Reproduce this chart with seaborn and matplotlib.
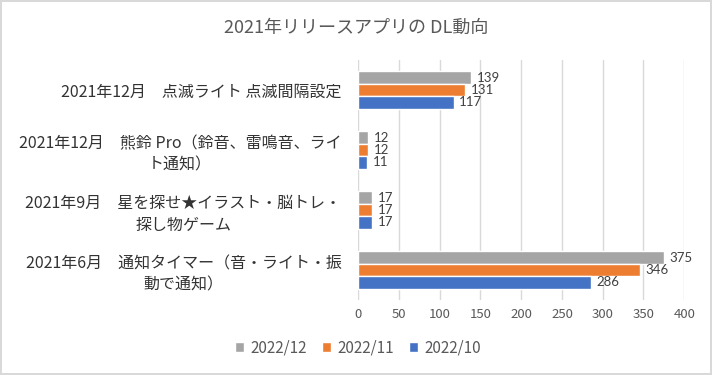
#horizontal grouped bar chart of app downloads
import pandas as pd
import matplotlib
matplotlib.use('Agg')
import matplotlib.pyplot as plt
import seaborn as sns

#chart data
apps = [
    '2021年12月　点滅ライト 点滅間隔設定',
    '2021年12月　熊鈴 Pro（鈴音、雷鳴音、ライ\nト通知）',
    '2021年9月　星を探せ★イラスト・脳トレ・\n探し物ゲーム',
    '2021年6月　通知タイマー（音・ライト・振\n動で通知）',
]
months = ['2022/12', '2022/11', '2022/10']
dl_2022_12 = [139, 12, 17, 375]
dl_2022_11 = [131, 12, 17, 346]
dl_2022_10 = [117, 11, 17, 286]
x_ticks = [0, 50, 100, 150, 200, 250, 300, 350, 400]
title = '2021年リリースアプリの DL動向'

#long form table for seaborn
rows = []
for month, values in zip(months, [dl_2022_12, dl_2022_11, dl_2022_10]):
    for app, v in zip(apps, values):
        rows.append({'app': app, 'month': month, 'downloads': v})
df = pd.DataFrame(rows)

sns.set_theme(style='white')
plt.rcParams['font.family'] = ['Noto Sans CJK JP', 'DejaVu Sans']
text_color = '#595959'

fig = plt.figure(figsize=(7.12, 3.75), dpi=100)
fig.patch.set_edgecolor('#D9D9D9')
fig.patch.set_linewidth(1.5)
ax = fig.add_axes([0.503, 0.2, 0.458, 0.64])

palette = {'2022/12': '#A5A5A5', '2022/11': '#ED7D31', '2022/10': '#4472C4'}
sns.barplot(data=df, x='downloads', y='app', hue='month', hue_order=months,
            order=apps, palette=palette, orient='h', width=0.62,
            saturation=1, ax=ax, zorder=3)

#value labels, in a font with a compact line box so they sit next to each bar
for container in ax.containers:
    ax.bar_label(container, padding=4, fontsize=9.5, color='#404040', family='Lato')

ax.set_xlim(0, 400)
ax.set_xticks(x_ticks)
ax.set_xticklabels([str(t) for t in x_ticks], fontsize=9.5, color=text_color)
ax.tick_params(axis='x', length=0, pad=6)
ax.tick_params(axis='y', length=0, pad=12)
for lbl in ax.get_yticklabels():
    lbl.set_fontsize(11.5)
    lbl.set_color('#333333')
    lbl.set_multialignment('center')
    lbl.set_linespacing(1.35)
ax.grid(axis='x', color='#D9D9D9', linewidth=1, zorder=0)
for s in ax.spines.values():
    s.set_visible(False)
ax.set_xlabel('')
ax.set_ylabel('')

#legend below the plot
handles, labels = ax.get_legend_handles_labels()
ax.get_legend().remove()
fig.legend(handles, labels, loc='center', bbox_to_anchor=(0.503, 0.072), ncol=3,
           frameon=False, fontsize=11, labelcolor=text_color,
           handlelength=0.6, handleheight=0.6, handletextpad=0.4, columnspacing=1.0)

fig.text(0.5, 0.925, title, ha='center', va='center', fontsize=13, color=text_color)

plt.savefig('out.png', dpi=100)
